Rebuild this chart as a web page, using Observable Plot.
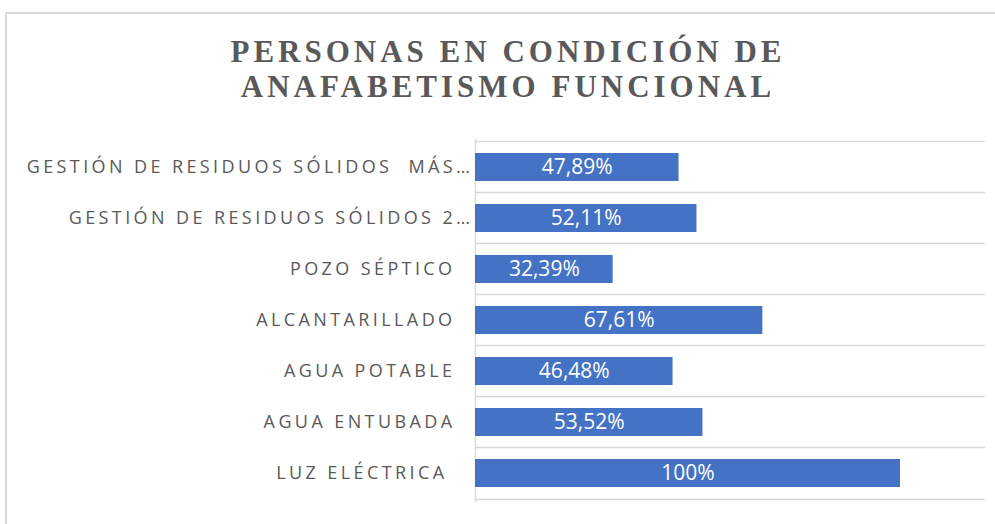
<!DOCTYPE html>
<html>
<head>
<meta charset="utf-8">
<script src="https://cdn.jsdelivr.net/npm/d3@7"></script>
<script src="https://cdn.jsdelivr.net/npm/@observablehq/plot@0.6"></script>
<style>
  html, body { margin: 0; padding: 0; background: #fff; }
  #page { position: relative; width: 995px; height: 524px; overflow: hidden; background: #fff; }
  #frame { position: absolute; left: 5px; top: 12px; width: 1010px; height: 530px;
           border-left: 2px solid #d9d9d9; border-top: 2px solid #d9d9d9; box-sizing: border-box; }
  #title { position: absolute; left: 5px; width: 1006px; top: 34px; text-align: center;
           font-family: "Liberation Serif", "Times New Roman", serif; font-weight: bold;
           font-size: 31px; line-height: 35px; letter-spacing: 4px; color: #595959; }
  #chart { position: absolute; left: 0; top: 118px; line-height: 0; }
  #chart svg { display: block; }
</style>
</head>
<body>
<div id="page">
  <div id="frame"></div>
  <div id="title">PERSONAS EN CONDICIÓN DE<br>ANAFABETISMO FUNCIONAL</div>
  <div id="chart"></div>
</div>
<script>
const categories = [
  "GESTIÓN DE RESIDUOS SÓLIDOS  MÁS…",
  "GESTIÓN DE RESIDUOS SÓLIDOS 2…",
  "POZO SÉPTICO",
  "ALCANTARILLADO",
  "AGUA POTABLE",
  "AGUA ENTUBADA",
  "LUZ ELÉCTRICA "
];
const values = [47.89, 52.11, 32.39, 67.61, 46.48, 53.52, 100];
const xMax = 120;

const data = categories.map((c, i) => ({cat: c, value: values[i]}));
const fmt = v => (Number.isInteger(v) ? String(v) : v.toFixed(2).replace(".", ",")) + "%";

const W = 995, H = 406, mt = 21, mb = 22, ml = 475, mr = 10;
const step = (H - mt - mb) / categories.length;
const grid = "#d9d9d9";
const labelColor = "#595959";
const truncated = categories.filter(c => c.endsWith("…"));
const plain = categories.filter(c => !c.endsWith("…"));

const chart = Plot.plot({
  width: W, height: H,
  marginTop: mt, marginBottom: mb, marginLeft: ml, marginRight: mr,
  x: {domain: [0, xMax], axis: null},
  y: {domain: categories, paddingInner: 0.45, paddingOuter: 0.225, axis: null},
  style: {fontFamily: "'Open Sans', sans-serif", background: "transparent"},
  marks: [
    Plot.ruleY(categories, {y: d => d, dy: -step / 2, stroke: grid, strokeWidth: 1.5}),
    Plot.ruleY(categories.slice(-1), {y: d => d, dy: step / 2, stroke: grid, strokeWidth: 1.5}),
    Plot.ruleX([0], {stroke: grid, strokeWidth: 1.5}),
    Plot.barX(data, {y: "cat", x: "value", fill: "#4472C4"}),
    Plot.text(data, {y: "cat", x: d => d.value / 2, text: d => fmt(d.value),
      fill: "white", fontSize: 21}),
    Plot.text(plain, {y: d => d, frameAnchor: "left", textAnchor: "end", dx: -20,
      fill: labelColor, fontSize: 18}),
    Plot.text(truncated, {y: d => d, frameAnchor: "left", textAnchor: "end", dx: -2,
      fill: labelColor, fontSize: 18})
  ]
});
chart.querySelectorAll("g[fill='" + labelColor + "'] text").forEach(t => {
  t.style.letterSpacing = "3.4px";
  t.style.whiteSpace = "pre";
});
document.getElementById("chart").appendChild(chart);
</script>
</body>
</html>
